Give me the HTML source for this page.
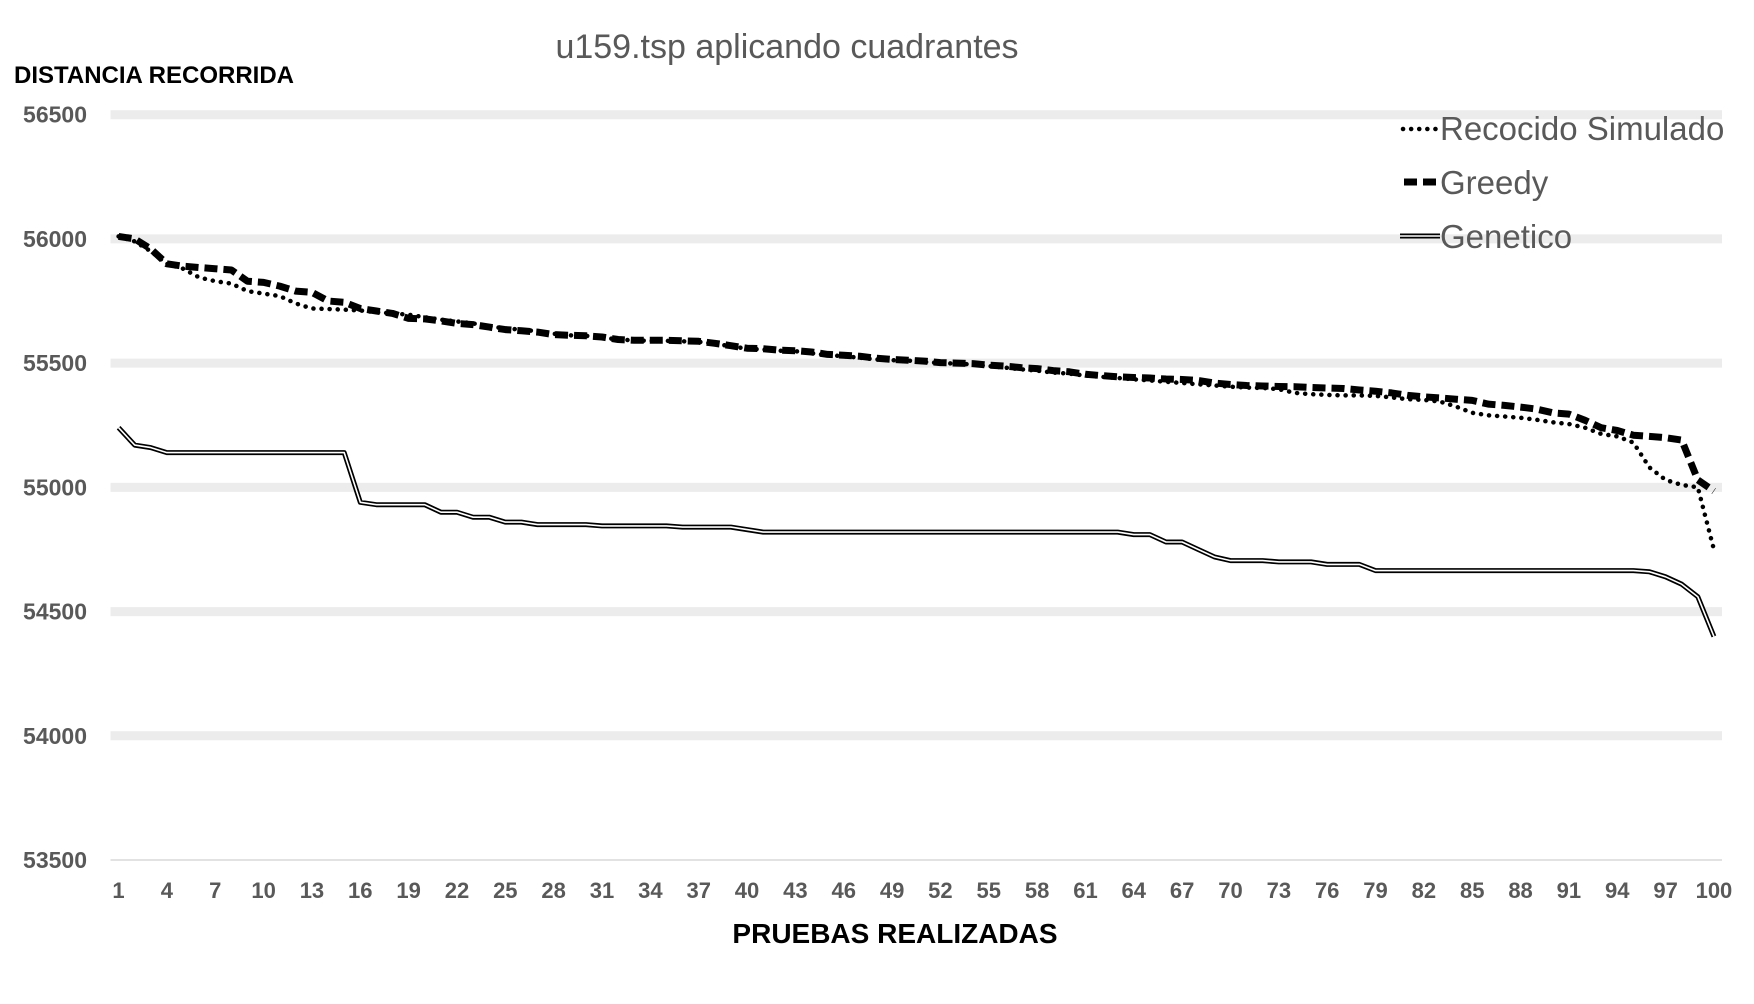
<!DOCTYPE html>
<html><head><meta charset="utf-8"><style>
html,body{margin:0;padding:0;background:#fff;}
svg{display:block;font-family:"Liberation Sans",sans-serif;}
</style></head><body>
<svg id="chart" width="1754" height="1004" viewBox="0 0 1754 1004" xmlns="http://www.w3.org/2000/svg">
<text x="787" y="58" text-anchor="middle" font-size="34" fill="#595959">u159.tsp aplicando cuadrantes</text>
<text x="14" y="83" font-size="24" font-weight="bold" fill="#000">DISTANCIA RECORRIDA</text>
<text x="895" y="943" text-anchor="middle" font-size="28" font-weight="bold" fill="#000">PRUEBAS REALIZADAS</text>
<g id="grid"></g>
<g id="yticks"></g>
<g id="xticks"></g>
<g id="series"></g>
<g>
 <g>
  <line x1="1403" y1="129" x2="1438" y2="129" stroke="#000" stroke-width="4.5" stroke-linecap="round" stroke-dasharray="0.1 8"/>
  <text x="1440" y="140" font-size="33" fill="#595959">Recocido Simulado</text>
 </g>
 <g>
  <line x1="1404" y1="182" x2="1438" y2="182" stroke="#000" stroke-width="7" stroke-dasharray="13 6"/>
  <text x="1440" y="194" font-size="33" fill="#595959">Greedy</text>
 </g>
 <g>
  <line x1="1400" y1="236" x2="1440" y2="236" stroke="#000" stroke-width="5"/>
  <line x1="1400" y1="236" x2="1440" y2="236" stroke="#fff" stroke-width="1.6"/>
  <text x="1440" y="248" font-size="33" fill="#595959">Genetico</text>
 </g>
</g>
</svg>
<script>
const yTicks = [53500,54000,54500,55000,55500,56000,56500];
const greedy = [56010,56000,55960,55900,55890,55885,55880,55875,55830,55825,55810,55790,55785,55750,55745,55720,55710,55700,55680,55678,55670,55660,55655,55645,55635,55630,55625,55615,55612,55610,55605,55595,55592,55592,55592,55590,55588,55580,55570,55560,55558,55552,55550,55545,55535,55532,55528,55520,55515,55512,55508,55502,55500,55498,55492,55488,55482,55478,55470,55465,55455,55450,55445,55442,55440,55436,55434,55430,55420,55414,55410,55408,55406,55405,55402,55400,55398,55392,55387,55380,55370,55364,55360,55355,55350,55335,55330,55323,55315,55300,55295,55270,55240,55229,55210,55205,55200,55190,55030,54985];
const recocido = [56010,55990,55950,55900,55880,55845,55830,55820,55790,55780,55770,55740,55720,55718,55715,55712,55705,55700,55695,55685,55675,55668,55660,55648,55640,55635,55628,55618,55612,55610,55603,55595,55592,55590,55590,55588,55586,55578,55568,55558,55555,55550,55548,55540,55532,55528,55522,55515,55512,55510,55505,55500,55498,55495,55488,55482,55475,55470,55462,55458,55450,55445,55440,55435,55430,55425,55420,55415,55410,55405,55402,55400,55395,55380,55375,55372,55370,55370,55368,55362,55355,55352,55345,55325,55300,55290,55285,55280,55272,55262,55255,55240,55215,55205,55180,55080,55030,55010,55000,54750];
const genetico = [55240,55170,55160,55140,55140,55140,55140,55140,55140,55140,55140,55140,55140,55140,55140,54940,54930,54930,54930,54930,54900,54900,54880,54880,54860,54860,54850,54850,54850,54850,54845,54845,54845,54845,54845,54840,54840,54840,54840,54830,54820,54820,54820,54820,54820,54820,54820,54820,54820,54820,54820,54820,54820,54820,54820,54820,54820,54820,54820,54820,54820,54820,54820,54810,54810,54780,54780,54750,54720,54705,54705,54705,54700,54700,54700,54690,54690,54690,54665,54665,54665,54665,54665,54665,54665,54665,54665,54665,54665,54665,54665,54665,54665,54665,54665,54660,54640,54610,54560,54400];
const categories = greedy.map((_, i) => i + 1);

const NS = "http://www.w3.org/2000/svg";
const X0 = 110.5, X1 = 1722, YT = 114.7, YB = 860, VMIN = 53500, VMAX = 56500;
const band = (X1 - X0) / categories.length;
const xs = i => X0 + band * (i + 0.5);
const ys = v => YT + (VMAX - v) / (VMAX - VMIN) * (YB - YT);

const grid = document.getElementById('grid');
const yt = document.getElementById('yticks');
yTicks.forEach(v => {
  const l = document.createElementNS(NS, 'line');
  
  
  l.setAttribute('x1', X0); l.setAttribute('x2', X1);
  l.setAttribute('y1', ys(v)); l.setAttribute('y2', ys(v));
  l.setAttribute('stroke', v === VMIN ? '#d9d9d9' : '#ececec');
  l.setAttribute('stroke-width', v === VMIN ? 1.5 : 9);
  grid.appendChild(l);
  const t = document.createElementNS(NS, 'text');
  
  
  t.setAttribute('x', 87); t.setAttribute('y', ys(v) + 8);
  t.setAttribute('text-anchor', 'end');
  t.setAttribute('font-size', '23'); t.setAttribute('font-weight', 'bold');
  t.setAttribute('fill', '#595959');
  t.textContent = v;
  yt.appendChild(t);
});

const xt = document.getElementById('xticks');
categories.forEach((c, i) => {
  if (i % 3 !== 0) return;
  const t = document.createElementNS(NS, 'text');
  
  
  t.setAttribute('x', xs(i)); t.setAttribute('y', 898);
  t.setAttribute('text-anchor', 'middle');
  t.setAttribute('font-size', '22'); t.setAttribute('font-weight', 'bold');
  t.setAttribute('fill', '#595959');
  t.textContent = c;
  xt.appendChild(t);
});

const sg = document.getElementById('series');
function pts(arr) { return arr.map((v, i) => xs(i).toFixed(1) + ',' + ys(v).toFixed(1)).join(' '); }
function addLine(arr, name, attrs) {
  const p = document.createElementNS(NS, 'polyline');
  
  
  p.setAttribute('points', pts(arr));
  p.setAttribute('fill', 'none');
  for (const k in attrs) p.setAttribute(k, attrs[k]);
  sg.appendChild(p);
}
addLine(genetico, 'genetico-line-outer', {stroke: '#000', 'stroke-width': 5, 'stroke-linejoin': 'round'});
addLine(genetico, 'genetico-line-inner', {stroke: '#fff', 'stroke-width': 1.6, 'stroke-linejoin': 'round'});
addLine(greedy, 'greedy-line', {stroke: '#000', 'stroke-width': 7, 'stroke-dasharray': '13 6', 'stroke-linejoin': 'round'});
addLine(recocido, 'recocido-line', {stroke: '#000', 'stroke-width': 4.5, 'stroke-dasharray': '0.1 8', 'stroke-linecap': 'round'});
</script>
</body></html>
